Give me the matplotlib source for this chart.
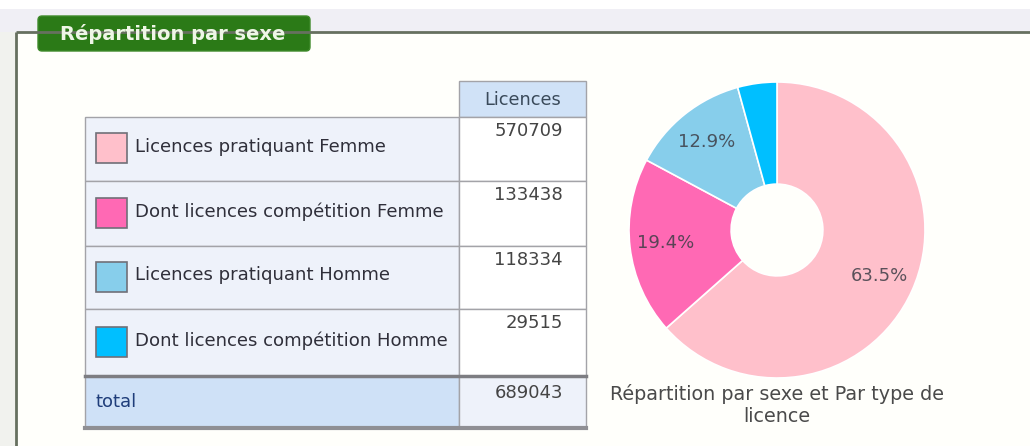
import matplotlib
matplotlib.use("Agg")
import matplotlib.pyplot as plt
from matplotlib.patches import Rectangle, FancyBboxPatch

# ---- data -------------------------------------------------------------
categories = [
    "Licences pratiquant Femme",
    "Dont licences compétition Femme",
    "Licences pratiquant Homme",
    "Dont licences compétition Homme",
]
licences = [570709, 133438, 118334, 29515]
swatch_colors = ["#ffc0cb", "#ff69b4", "#87ceeb", "#00bfff"]
column_header = "Licences"
total_label = "total"
panel_title = "Répartition par sexe"
pie_caption = "Répartition par sexe et Par type de\nlicence"

# practising totals per sex; the donut splits each into loisir / compétition
total = licences[0] + licences[2]
pie_values = [licences[0] - licences[1], licences[1],
              licences[2] - licences[3], licences[3]]

# ---- canvas -----------------------------------------------------------
W, H = 1030, 446
fig = plt.figure(figsize=(W / 100, H / 100), dpi=100)
fig.patch.set_facecolor("#ffffff")
ax = fig.add_axes([0, 0, 1, 1])
ax.set_xlim(0, W)
ax.set_ylim(H, 0)
ax.axis("off")

# page background and panel frame
ax.add_patch(Rectangle((0, 9), W, 24, facecolor="#f0eff5", edgecolor="none"))
ax.add_patch(Rectangle((0, 32), 16, H - 32, facecolor="#f1f2ee", edgecolor="none"))
ax.add_patch(Rectangle((17, 33), W - 17, H - 33, facecolor="#fffffb", edgecolor="none"))
ax.plot([16, W], [32, 32], color="#66705f", lw=2, solid_capstyle="butt")
ax.plot([16, 16], [32, H], color="#66705f", lw=2, solid_capstyle="butt")

ax.add_patch(FancyBboxPatch((38, 16), 272, 35,
                            boxstyle="round,pad=0,rounding_size=4",
                            facecolor="#2b7a17", edgecolor="#3f8a2a", lw=1))
ax.text(173, 34, panel_title, color="#eef6e6", fontsize=14,
        fontweight="bold", ha="center", va="center")

# ---- table ------------------------------------------------------------
x0, xdiv, x1 = 85, 459, 586
header_top, header_bot = 81, 117
row_edges = [117, 181, 246, 309, 376]
total_bot = 428
grid = "#a3a3a8"
label_bg = "#eef2fa"
head_bg = "#d0e2f7"
txt = "#2f2f3a"
num = "#444444"

ax.add_patch(Rectangle((xdiv, header_top), x1 - xdiv, header_bot - header_top,
                       facecolor=head_bg, edgecolor=grid, lw=1))
ax.text((xdiv + x1) / 2, (header_top + header_bot) / 2 + 1, column_header,
        color="#3a4a5a", fontsize=12.8, ha="center", va="center")

for i, (name, val, col) in enumerate(zip(categories, licences, swatch_colors)):
    top, bot = row_edges[i], row_edges[i + 1]
    mid = (top + bot) / 2
    ax.add_patch(Rectangle((x0, top), xdiv - x0, bot - top,
                           facecolor=label_bg, edgecolor=grid, lw=1))
    ax.add_patch(Rectangle((xdiv, top), x1 - xdiv, bot - top,
                           facecolor="#ffffff", edgecolor=grid, lw=1))
    ax.add_patch(Rectangle((96, mid - 16), 31, 30, facecolor=col,
                           edgecolor="#707078", lw=1.2))
    ax.text(135, mid - 2, name, color=txt, fontsize=13.1, ha="left", va="center")
    ax.text(563, top + 14, f"{val}", color=num, fontsize=13,
            ha="right", va="center")

# total row
ax.add_patch(Rectangle((x0, row_edges[-1]), xdiv - x0, total_bot - row_edges[-1],
                       facecolor="#cfe1f7", edgecolor=grid, lw=1))
ax.add_patch(Rectangle((xdiv, row_edges[-1]), x1 - xdiv, total_bot - row_edges[-1],
                       facecolor=label_bg, edgecolor=grid, lw=1))
ax.plot([x0, x1], [row_edges[-1], row_edges[-1]], color="#7d7d82", lw=2.5)
ax.plot([x0, x1], [total_bot, total_bot], color="#8f8f94", lw=3)
ax.text(96, 402, total_label, color="#1f3d7a", fontsize=13,
        ha="left", va="center")
ax.text(563, 393, f"{total}", color=num, fontsize=13, ha="right", va="center")

# ---- donut ------------------------------------------------------------
cx, cy, r = 777, 230, 148
pax = fig.add_axes([(cx - r) / W, (H - cy - r) / H, 2 * r / W, 2 * r / H])


def pct_label(p):
    return f"{p:.1f}%" if p >= 5 else ""


wedges, _, autotexts = pax.pie(
    pie_values, colors=swatch_colors, startangle=90, counterclock=False,
    radius=1, autopct=pct_label, pctdistance=0.76,
    wedgeprops=dict(width=0.69, edgecolor="white", linewidth=1.2),
    textprops=dict(color="#3d3d46", fontsize=13, alpha=0.85),
)
pax.set_xlim(-1, 1)
pax.set_ylim(-1, 1)
pax.set_aspect("equal")
pax.axis("off")

ax.text(cx, 405, pie_caption, color="#4a4a4a", fontsize=13.8,
        ha="center", va="center", linespacing=1.2)

fig.savefig("out.png", dpi=100, facecolor=fig.get_facecolor())
